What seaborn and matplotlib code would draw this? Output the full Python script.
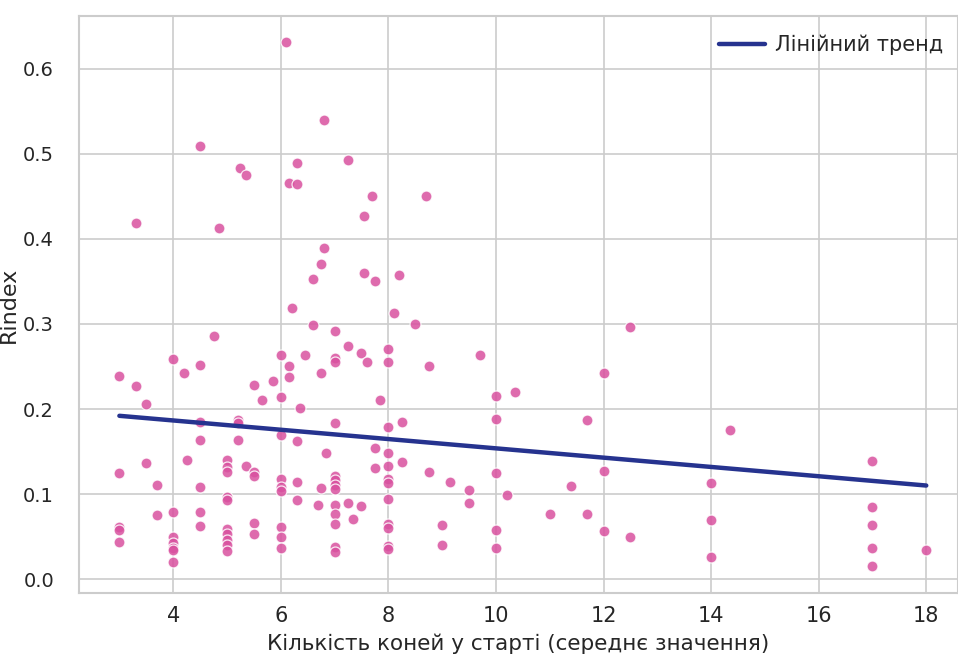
import numpy as np
import pandas as pd
import matplotlib
matplotlib.use("Agg")
import matplotlib.pyplot as plt
import seaborn as sns

# Average number of horses per start (x) and Rindex (y)
horses = [
    3, 3, 3, 3, 3,
    3.3, 3.3, 3.5, 3.5, 3.7, 3.7,
    4, 4, 4, 4, 4, 4, 4,
    4.2, 4.25,
    4.5, 4.5, 4.5, 4.5, 4.5, 4.5, 4.5,
    4.75, 4.85,
    5, 5, 5, 5, 5, 5, 5, 5, 5, 5,
    5.2, 5.2, 5.2, 5.25, 5.35, 5.35,
    5.5, 5.5, 5.5, 5.5, 5.5,
    5.65, 5.85,
    6, 6, 6, 6, 6, 6, 6, 6, 6,
    6.1, 6.15, 6.15, 6.15, 6.2,
    6.3, 6.3, 6.3, 6.3, 6.3, 6.35, 6.45,
    6.6, 6.6, 6.7, 6.75, 6.75, 6.75, 6.8, 6.8, 6.85,
    7, 7, 7, 7, 7, 7, 7, 7, 7, 7, 7, 7, 7,
    7.25, 7.25, 7.25, 7.35, 7.5, 7.5, 7.55, 7.55, 7.6, 7.7,
    7.75, 7.75, 7.75, 7.85,
    8, 8, 8, 8, 8, 8, 8, 8, 8, 8, 8, 8,
    8.1, 8.2, 8.25, 8.25, 8.5, 8.7, 8.75, 8.75,
    9, 9, 9.15, 9.5, 9.5, 9.7,
    10, 10, 10, 10, 10, 10.2, 10.35,
    11, 11.4, 11.7, 11.7,
    12, 12, 12, 12.5, 12.5,
    14, 14, 14, 14.35,
    17, 17, 17, 17, 17,
    18,
]
rindex = [
    0.239, 0.125, 0.061, 0.058, 0.044,
    0.419, 0.227, 0.206, 0.137, 0.111, 0.075,
    0.259, 0.079, 0.049, 0.042, 0.036, 0.034, 0.020,
    0.242, 0.140,
    0.509, 0.252, 0.185, 0.164, 0.108, 0.079, 0.062,
    0.286, 0.413,
    0.140, 0.132, 0.126, 0.096, 0.093, 0.059, 0.053, 0.046, 0.040, 0.033,
    0.187, 0.183, 0.164, 0.484, 0.475, 0.133,
    0.228, 0.126, 0.121, 0.066, 0.053,
    0.211, 0.233,
    0.264, 0.214, 0.170, 0.118, 0.108, 0.104, 0.061, 0.049, 0.036,
    0.632, 0.466, 0.251, 0.238, 0.319,
    0.489, 0.465, 0.162, 0.114, 0.093, 0.201, 0.264,
    0.353, 0.299, 0.087, 0.371, 0.242, 0.107, 0.540, 0.389, 0.148,
    0.292, 0.260, 0.255, 0.184, 0.121, 0.116, 0.111, 0.106, 0.087, 0.076, 0.065, 0.038, 0.032,
    0.493, 0.274, 0.089, 0.071, 0.266, 0.086, 0.427, 0.360, 0.255, 0.451,
    0.351, 0.154, 0.131, 0.211,
    0.270, 0.255, 0.179, 0.148, 0.133, 0.118, 0.113, 0.094, 0.065, 0.060, 0.039, 0.035,
    0.313, 0.358, 0.185, 0.138, 0.300, 0.451, 0.251, 0.126,
    0.064, 0.040, 0.114, 0.105, 0.089, 0.264,
    0.215, 0.188, 0.125, 0.058, 0.036, 0.099, 0.220,
    0.076, 0.109, 0.187, 0.076,
    0.242, 0.127, 0.056, 0.296, 0.049,
    0.113, 0.069, 0.026, 0.175,
    0.139, 0.085, 0.064, 0.036, 0.015,
    0.034,
]

trend_x = [3, 18]
trend_y = [0.192, 0.110]

x_ticks = [4, 6, 8, 10, 12, 14, 16, 18]
y_ticks = [0.0, 0.1, 0.2, 0.3, 0.4, 0.5, 0.6]

df = pd.DataFrame({"horses": horses, "rindex": rindex})
trend = pd.DataFrame({"x": trend_x, "y": trend_y})

sns.set_theme(style="whitegrid")
plt.rcParams["font.family"] = ["DejaVu Sans"]

fig = plt.figure(figsize=(9.58, 6.59), dpi=100)
ax = fig.add_axes([0.0825, 0.100, 0.9175, 0.876])

sns.scatterplot(data=df, x="horses", y="rindex", ax=ax, color="#d9519f",
                alpha=0.85, s=62, edgecolor="white", linewidth=0.9, zorder=3)
sns.lineplot(data=trend, x="x", y="y", ax=ax, color="#26338f", linewidth=3.2,
             label="Лінійний тренд", zorder=4)

ax.set_xlim(2.25, 18.59)
ax.set_ylim(-0.0165, 0.6624)
ax.set_xticks(x_ticks)
ax.set_yticks(y_ticks)
ax.set_xticklabels([str(t) for t in x_ticks], fontsize=15)
ax.set_yticklabels([f"{t:.1f}" for t in y_ticks], fontsize=14)
ax.tick_params(axis="x", colors="#262626", pad=3)
ax.tick_params(axis="y", colors="#262626", pad=12)
ax.set_xlabel("Кількість коней у старті (середнє значення)", fontsize=15.5,
              color="#262626", labelpad=6)
ax.set_ylabel("Rindex", fontsize=16, color="#262626")
ax.yaxis.set_label_coords(-0.068, 0.5)
ax.grid(color="#cccccc", linewidth=1.2)
for sp in ax.spines.values():
    sp.set_color("#cccccc")
    sp.set_linewidth(1.5)

leg = ax.legend(loc="upper right", bbox_to_anchor=(0.995, 0.985), frameon=False,
                fontsize=15, handlelength=2.2, handletextpad=0.5, borderaxespad=0.1)
for t in leg.get_texts():
    t.set_color("#262626")

fig.savefig("out.png", dpi=100)
